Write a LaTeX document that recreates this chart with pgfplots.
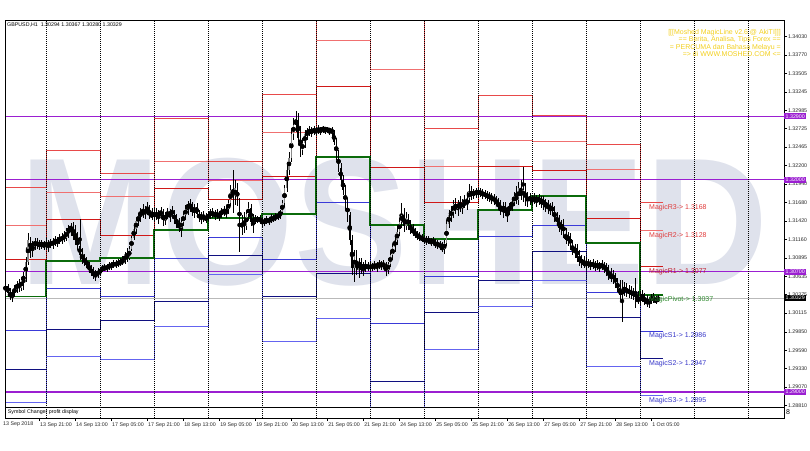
\documentclass[border=0pt]{standalone}
\usepackage{fontspec}
\setmainfont{Liberation Sans}
\usepackage{pgfplots}
\usepackage{pgfplotstable}
\pgfplotsset{compat=1.18}
\definecolor{rthree}{HTML}{E84A4A}
\definecolor{rtwo}{HTML}{F07070}
\definecolor{rone}{HTML}{D01818}
\definecolor{piv}{HTML}{0B6B0B}
\definecolor{sone}{HTML}{3A3AD8}
\definecolor{stwo}{HTML}{101080}
\definecolor{sthree}{HTML}{6464F0}
\definecolor{rlab}{HTML}{E03A3A}
\definecolor{r1lab}{HTML}{C0182A}
\definecolor{plab}{HTML}{2E8B2E}
\definecolor{slab}{HTML}{3535C8}
\definecolor{purp}{HTML}{9B1FD1}
\definecolor{yel}{HTML}{F2CF1D}
\definecolor{wm}{HTML}{DFE2EC}
\definecolor{bull}{HTML}{8A8A8A}

\pgfplotstableread{
x r3 r2 r1 p s1 s2 s3
0 1.31895 1.31352 1.30881 1.30348 1.29867 1.29325 1.28854
24 1.32413 1.31819 1.31443 1.30853 1.30467 1.29887 1.29499
48 1.32093 1.31772 1.31221 1.30891 1.30348 1.30018 1.29466
72 1.32871 1.32257 1.31881 1.31291 1.30891 1.30287 1.29923
96 1.32257 1.31999 1.31726 1.31457 1.31188 1.30928 1.30669
120 1.33211 1.32673 1.32055 1.31513 1.30881 1.30348 1.29711
144 1.34969 1.33969 1.33328 1.32328 1.31683 1.30679 1.30042
168 1.34361 1.33565 1.32173 1.31362 1.29971 1.29155 1.27783
192 1.32730 1.32197 1.31683 1.31160 1.30641 1.30121 1.29608
216 1.33191 1.32564 1.32197 1.31574 1.31206 1.30584 1.30216
240 1.32918 1.32550 1.32140 1.31772 1.31362 1.30994 1.30584
264 1.32504 1.32154 1.31457 1.31103 1.30410 1.30056 1.29363
288 1.3168 1.3128 1.3077 1.3037 1.2986 1.2947 1.2895
298 1.3168 1.3128 1.3077 1.3037 1.2986 1.2947 1.2895
}\levels

\pgfplotstableread{
x o h l c
6 1.30443 1.30542 1.30386 1.30499
7 1.30499 1.30528 1.30358 1.30400
8 1.30400 1.30471 1.30301 1.30344
9 1.30344 1.30443 1.30273 1.30414
10 1.30414 1.30513 1.30344 1.30457
11 1.30457 1.30570 1.30400 1.30528
12 1.30528 1.30598 1.30414 1.30471
13 1.30471 1.30627 1.30428 1.30584
14 1.30584 1.30697 1.30443 1.30641
15 1.30641 1.30909 1.30556 1.30839
16 1.30839 1.31249 1.30796 1.31150
17 1.31150 1.31192 1.30895 1.31008
18 1.31008 1.31136 1.30909 1.31079
19 1.31079 1.31178 1.31008 1.31122
20 1.31122 1.31178 1.31023 1.31065
21 1.31065 1.31150 1.31008 1.31108
22 1.31108 1.31150 1.31023 1.31079
23 1.31079 1.31136 1.31008 1.31093
24 1.31093 1.31178 1.31008 1.31065
25 1.31065 1.31150 1.30980 1.31108
26 1.31108 1.31164 1.31037 1.31079
27 1.31079 1.31178 1.31023 1.31136
28 1.31136 1.31207 1.31065 1.31108
29 1.31108 1.31192 1.31051 1.31164
30 1.31164 1.31235 1.31093 1.31136
31 1.31136 1.31249 1.31093 1.31207
32 1.31207 1.31277 1.31122 1.31178
33 1.31178 1.31320 1.31136 1.31277
34 1.31277 1.31362 1.31178 1.31306
35 1.31306 1.31390 1.31207 1.31334
36 1.31334 1.31405 1.31150 1.31207
37 1.31207 1.31362 1.31079 1.31150
38 1.31150 1.31263 1.31008 1.31065
39 1.31065 1.31447 1.30867 1.30938
40 1.30938 1.31037 1.30810 1.30881
41 1.30881 1.30952 1.30782 1.30839
42 1.30839 1.30909 1.30754 1.30810
43 1.30810 1.30839 1.30683 1.30726
44 1.30726 1.30796 1.30641 1.30697
45 1.30697 1.30768 1.30598 1.30641
46 1.30641 1.30726 1.30570 1.30683
47 1.30683 1.30754 1.30612 1.30683
48 1.30683 1.30768 1.30655 1.30726
49 1.30726 1.30796 1.30697 1.30754
50 1.30754 1.30810 1.30711 1.30740
51 1.30740 1.30810 1.30697 1.30782
52 1.30782 1.30839 1.30726 1.30768
53 1.30768 1.30839 1.30726 1.30810
54 1.30810 1.30867 1.30754 1.30796
55 1.30796 1.30867 1.30754 1.30825
56 1.30825 1.30881 1.30768 1.30810
57 1.30810 1.30895 1.30782 1.30853
58 1.30853 1.30924 1.30796 1.30839
59 1.30839 1.30980 1.30810 1.30952
60 1.30952 1.31037 1.30839 1.30895
61 1.30895 1.31065 1.30867 1.31023
62 1.31023 1.31207 1.30994 1.31178
63 1.31178 1.31348 1.31150 1.31306
64 1.31306 1.31461 1.31235 1.31419
65 1.31419 1.31532 1.31348 1.31489
66 1.31489 1.31603 1.31405 1.31560
67 1.31560 1.31659 1.31461 1.31518
68 1.31518 1.31631 1.31447 1.31589
69 1.31589 1.31688 1.31504 1.31546
70 1.31546 1.31645 1.31447 1.31504
71 1.31504 1.31603 1.31433 1.31489
72 1.31489 1.31617 1.31405 1.31532
73 1.31532 1.31603 1.31433 1.31475
74 1.31475 1.31574 1.31376 1.31546
75 1.31546 1.31617 1.31461 1.31504
76 1.31504 1.31589 1.31348 1.31433
77 1.31433 1.31546 1.31362 1.31518
78 1.31518 1.31603 1.31447 1.31489
79 1.31489 1.31589 1.31405 1.31560
80 1.31560 1.31631 1.31461 1.31518
81 1.31518 1.31574 1.31376 1.31433
82 1.31433 1.31518 1.31320 1.31376
83 1.31376 1.31461 1.31263 1.31320
84 1.31320 1.31433 1.31192 1.31405
85 1.31405 1.31546 1.31348 1.31504
86 1.31504 1.31645 1.31433 1.31589
87 1.31589 1.31702 1.31504 1.31659
88 1.31659 1.31730 1.31546 1.31603
89 1.31603 1.31688 1.31489 1.31546
90 1.31546 1.31659 1.31461 1.31617
91 1.31617 1.31673 1.31475 1.31518
92 1.31518 1.31574 1.31405 1.31461
93 1.31461 1.31546 1.31376 1.31504
94 1.31504 1.31560 1.31405 1.31447
95 1.31447 1.31532 1.31390 1.31461
96 1.31461 1.31560 1.31405 1.31504
97 1.31504 1.31589 1.31447 1.31546
98 1.31546 1.31603 1.31461 1.31489
99 1.31489 1.31574 1.31433 1.31532
100 1.31532 1.31589 1.31447 1.31475
101 1.31475 1.31560 1.31419 1.31518
102 1.31518 1.31603 1.31461 1.31560
103 1.31560 1.31631 1.31489 1.31532
104 1.31532 1.31617 1.31461 1.31589
105 1.31589 1.31716 1.31518 1.31673
106 1.31673 1.31928 1.31631 1.31857
107 1.31857 1.32140 1.31532 1.31772
108 1.31772 1.31999 1.31645 1.31886
109 1.31886 1.31956 1.31631 1.31716
110 1.31716 1.31744 1.30980 1.31320
111 1.31320 1.31504 1.31221 1.31405
112 1.31405 1.31546 1.31249 1.31348
113 1.31348 1.31574 1.31291 1.31518
114 1.31518 1.31688 1.31433 1.31603
115 1.31603 1.31659 1.31348 1.31405
116 1.31405 1.31518 1.31249 1.31447
117 1.31447 1.31504 1.31376 1.31419
118 1.31419 1.31489 1.31390 1.31461
119 1.31461 1.31504 1.31376 1.31419
120 1.31419 1.31475 1.31334 1.31390
121 1.31390 1.31461 1.31348 1.31433
122 1.31433 1.31489 1.31376 1.31405
123 1.31405 1.31475 1.31362 1.31447
124 1.31447 1.31518 1.31390 1.31433
125 1.31433 1.31504 1.31405 1.31475
126 1.31475 1.31532 1.31419 1.31461
127 1.31461 1.31546 1.31433 1.31504
128 1.31504 1.31574 1.31447 1.31546
129 1.31546 1.31716 1.31518 1.31673
130 1.31673 1.31928 1.31617 1.31886
131 1.31886 1.32211 1.31829 1.32140
132 1.32140 1.32395 1.32069 1.32310
133 1.32310 1.32734 1.32253 1.32649
134 1.32649 1.32876 1.32565 1.32777
135 1.32777 1.32975 1.32678 1.32847
136 1.32847 1.32946 1.32536 1.32593
137 1.32593 1.32763 1.32324 1.32423
138 1.32423 1.32593 1.32352 1.32522
139 1.32522 1.32706 1.32451 1.32649
140 1.32649 1.32734 1.32565 1.32692
141 1.32692 1.32763 1.32621 1.32664
142 1.32664 1.32748 1.32607 1.32720
143 1.32720 1.32763 1.32635 1.32678
144 1.32678 1.32748 1.32621 1.32720
145 1.32720 1.32777 1.32649 1.32692
146 1.32692 1.32748 1.32635 1.32734
147 1.32734 1.32763 1.32664 1.32706
148 1.32706 1.32748 1.32649 1.32734
149 1.32734 1.32748 1.32664 1.32692
150 1.32692 1.32734 1.32635 1.32720
151 1.32720 1.32748 1.32621 1.32664
152 1.32664 1.32706 1.32494 1.32536
153 1.32536 1.32593 1.32282 1.32352
154 1.32352 1.32423 1.32112 1.32168
155 1.32168 1.32239 1.31928 1.31999
156 1.31999 1.32069 1.31787 1.31857
157 1.31857 1.31928 1.31574 1.31645
158 1.31645 1.31744 1.31405 1.31504
159 1.31504 1.31546 1.31079 1.31150
160 1.31150 1.31221 1.30655 1.30754
161 1.30754 1.31008 1.30556 1.30924
162 1.30924 1.31008 1.30655 1.30726
163 1.30726 1.30895 1.30612 1.30839
164 1.30839 1.30895 1.30669 1.30726
165 1.30726 1.30839 1.30641 1.30796
166 1.30796 1.30867 1.30697 1.30754
167 1.30754 1.30839 1.30711 1.30782
168 1.30782 1.30839 1.30697 1.30754
169 1.30754 1.30825 1.30711 1.30796
170 1.30796 1.30853 1.30726 1.30768
171 1.30768 1.30839 1.30697 1.30810
172 1.30810 1.30867 1.30740 1.30782
173 1.30782 1.30853 1.30726 1.30825
174 1.30825 1.30867 1.30740 1.30768
175 1.30768 1.30839 1.30641 1.30726
176 1.30726 1.30839 1.30669 1.30810
177 1.30810 1.30980 1.30768 1.30938
178 1.30938 1.31093 1.30867 1.31051
179 1.31051 1.31221 1.30980 1.31150
180 1.31150 1.31320 1.31079 1.31263
181 1.31263 1.31461 1.31207 1.31405
182 1.31405 1.31673 1.31320 1.31504
183 1.31504 1.31603 1.31263 1.31348
184 1.31348 1.31546 1.31291 1.31461
185 1.31461 1.31518 1.31291 1.31348
186 1.31348 1.31433 1.31235 1.31291
187 1.31291 1.31376 1.31207 1.31263
188 1.31263 1.31320 1.31178 1.31221
189 1.31221 1.31277 1.31150 1.31207
190 1.31207 1.31263 1.31136 1.31178
191 1.31178 1.31235 1.31122 1.31164
192 1.31164 1.31221 1.31093 1.31136
193 1.31136 1.31207 1.31079 1.31164
194 1.31164 1.31207 1.31093 1.31122
195 1.31122 1.31178 1.31065 1.31150
196 1.31150 1.31192 1.31079 1.31108
197 1.31108 1.31164 1.31037 1.31079
198 1.31079 1.31150 1.31023 1.31108
199 1.31108 1.31136 1.31008 1.31051
200 1.31051 1.31122 1.30980 1.31023
201 1.31023 1.31150 1.30952 1.31108
202 1.31108 1.31433 1.31065 1.31376
203 1.31376 1.31574 1.31320 1.31504
204 1.31504 1.31631 1.31405 1.31546
205 1.31546 1.31716 1.31461 1.31659
206 1.31659 1.31744 1.31518 1.31589
207 1.31589 1.31716 1.31489 1.31673
208 1.31673 1.31772 1.31546 1.31603
209 1.31603 1.31730 1.31518 1.31688
210 1.31688 1.31787 1.31603 1.31645
211 1.31645 1.31772 1.31574 1.31744
212 1.31744 1.31942 1.31673 1.31829
213 1.31829 1.31914 1.31716 1.31787
214 1.31787 1.31871 1.31730 1.31829
215 1.31829 1.31886 1.31744 1.31815
216 1.31815 1.31886 1.31744 1.31843
217 1.31843 1.31886 1.31758 1.31801
218 1.31801 1.31871 1.31730 1.31815
219 1.31815 1.31857 1.31730 1.31772
220 1.31772 1.31843 1.31702 1.31787
221 1.31787 1.31829 1.31688 1.31744
222 1.31744 1.31815 1.31659 1.31758
223 1.31758 1.31801 1.31645 1.31702
224 1.31702 1.31772 1.31631 1.31673
225 1.31673 1.31744 1.31574 1.31617
226 1.31617 1.31716 1.31504 1.31560
227 1.31560 1.31688 1.31461 1.31631
228 1.31631 1.31688 1.31489 1.31532
229 1.31532 1.31617 1.31405 1.31574
230 1.31574 1.31673 1.31504 1.31631
231 1.31631 1.31730 1.31560 1.31688
232 1.31688 1.31829 1.31631 1.31772
233 1.31772 1.31914 1.31659 1.31716
234 1.31716 1.31970 1.31645 1.31886
235 1.31886 1.31999 1.31716 1.31772
236 1.31772 1.32183 1.31688 1.31857
237 1.31857 1.31956 1.31631 1.31702
238 1.31702 1.31829 1.31617 1.31758
239 1.31758 1.31815 1.31645 1.31716
240 1.31716 1.31787 1.31631 1.31744
241 1.31744 1.31815 1.31659 1.31702
242 1.31702 1.31787 1.31617 1.31758
243 1.31758 1.31801 1.31645 1.31688
244 1.31688 1.31772 1.31603 1.31730
245 1.31730 1.31772 1.31574 1.31645
246 1.31645 1.31730 1.31546 1.31673
247 1.31673 1.31716 1.31518 1.31589
248 1.31589 1.31673 1.31504 1.31631
249 1.31631 1.31688 1.31489 1.31546
250 1.31546 1.31631 1.31405 1.31461
251 1.31461 1.31546 1.31348 1.31419
252 1.31419 1.31504 1.31263 1.31320
253 1.31320 1.31433 1.31221 1.31376
254 1.31376 1.31447 1.31178 1.31235
255 1.31235 1.31320 1.31093 1.31150
256 1.31150 1.31263 1.31065 1.31207
257 1.31207 1.31249 1.31008 1.31065
258 1.31065 1.31150 1.30938 1.30994
259 1.30994 1.31093 1.30895 1.31037
260 1.31037 1.31093 1.30839 1.30895
261 1.30895 1.31008 1.30782 1.30839
262 1.30839 1.30938 1.30754 1.30867
263 1.30867 1.30924 1.30754 1.30782
264 1.30782 1.30895 1.30726 1.30839
265 1.30839 1.30881 1.30754 1.30796
266 1.30796 1.30867 1.30726 1.30825
267 1.30825 1.30881 1.30740 1.30782
268 1.30782 1.30853 1.30711 1.30810
269 1.30810 1.30867 1.30726 1.30768
270 1.30768 1.30839 1.30697 1.30810
271 1.30810 1.30867 1.30726 1.30754
272 1.30754 1.30839 1.30683 1.30782
273 1.30782 1.30825 1.30641 1.30697
274 1.30697 1.30796 1.30584 1.30655
275 1.30655 1.30754 1.30556 1.30612
276 1.30612 1.30726 1.30528 1.30641
277 1.30641 1.30683 1.30471 1.30528
278 1.30528 1.30612 1.30414 1.30471
279 1.30471 1.30584 1.30301 1.30372
280 1.30372 1.30584 1.29990 1.30443
281 1.30443 1.30556 1.30358 1.30471
282 1.30471 1.30542 1.30344 1.30400
283 1.30400 1.30513 1.30329 1.30443
284 1.30443 1.30499 1.30315 1.30372
285 1.30372 1.30471 1.30301 1.30414
286 1.30414 1.30612 1.30188 1.30329
287 1.30329 1.30428 1.30245 1.30273
288 1.30273 1.30414 1.30216 1.30358
289 1.30358 1.30443 1.30273 1.30315
290 1.30315 1.30400 1.30230 1.30287
291 1.30287 1.30372 1.30202 1.30259
292 1.30259 1.30344 1.30188 1.30301
293 1.30301 1.30386 1.30245 1.30344
294 1.30344 1.30400 1.30259 1.30287
295 1.30287 1.30358 1.30245 1.30294
296 1.30294 1.30367 1.30280 1.30329
}\candles

\newcommand{\tk}{\fontsize{5.3}{6}\selectfont}
\newcommand{\lb}{\fontsize{7}{8}\selectfont}

\begin{document}
\begin{tikzpicture}
\begin{axis}[
  at={(0,0)}, anchor=south west, scale only axis,
  width=779pt, height=397.3pt,
  xmin=5.78, xmax=352, ymin=1.28631, ymax=1.34252,
  axis line style={black, line width=0.8pt},
  axis on top,
  clip mode=individual,
  xtick={21,37,...,293},
  xticklabels={13 Sep 21:00,14 Sep 13:00,17 Sep 05:00,17 Sep 21:00,18 Sep 13:00,19 Sep 05:00,19 Sep 21:00,20 Sep 13:00,21 Sep 05:00,21 Sep 21:00,24 Sep 13:00,25 Sep 05:00,25 Sep 21:00,26 Sep 13:00,27 Sep 05:00,27 Sep 21:00,28 Sep 13:00,1 Oct 05:00},
  xtick pos=bottom,
  xticklabel style={font=\tk, text=black!85, anchor=north west, inner sep=0pt, xshift=0.8pt, yshift=-1.5pt},
  extra x ticks={24,48,...,336}, extra x tick labels={},
  extra x tick style={major tick length=0pt, xmajorgrids=true},
  major grid style={black, line width=0.7pt, dash pattern=on 1pt off 1pt},
  ytick={1.28810,1.29070,1.29330,1.29590,1.29850,1.30115,1.30375,1.30635,1.30895,1.31160,1.31420,1.31680,1.31940,1.32200,1.32465,1.32725,1.32985,1.33245,1.33505,1.33770,1.34030},
  yticklabels={1.28810,1.29070,1.29330,1.29590,1.29850,1.30115,1.30375,1.30635,1.30895,1.31160,1.31420,1.31680,1.31940,1.32200,1.32465,1.32725,1.32985,1.33245,1.33505,1.33770,1.34030},
  ytick pos=right, yticklabel pos=right,
  tick align=outside, major tick length=3pt,
  tick style={black, line width=0.5pt},
  yticklabel style={font=\tk, text=black!85, anchor=west, inner sep=0pt, xshift=0.8pt},
]
\coordinate (O) at (rel axis cs:0,0);
% watermark
\node[text=wm, font=\fontsize{181}{181}\selectfont\bfseries, xscale=0.942, inner sep=0pt] at (rel axis cs:0.4994,0.4933) {MOSHED};
% current price line
\addplot[gray!55, line width=0.6pt, forget plot] coordinates {(5.78,1.30329) (352,1.30329)};
% horizontal user lines
\addplot[purp, line width=1.4pt, forget plot] coordinates {(5.78,1.32900) (352,1.32900)};
\addplot[purp, line width=1.0pt, forget plot] coordinates {(5.78,1.32000) (352,1.32000)};
\addplot[purp, line width=1.0pt, forget plot] coordinates {(5.78,1.30700) (352,1.30700)};
\addplot[purp, line width=1.4pt, forget plot] coordinates {(5.78,1.29000) (352,1.29000)};
% pivot levels
\addplot[const plot mark left, rthree, line width=0.85pt, forget plot] table[x=x,y=r3] {\levels};
\addplot[const plot mark left, rtwo, line width=0.85pt, forget plot] table[x=x,y=r2] {\levels};
\addplot[const plot mark left, rone, line width=0.85pt, forget plot] table[x=x,y=r1] {\levels};
\addplot[const plot mark left, sone, line width=0.85pt, forget plot] table[x=x,y=s1] {\levels};
\addplot[const plot mark left, stwo, line width=0.85pt, forget plot] table[x=x,y=s2] {\levels};
\addplot[const plot mark left, sthree, line width=0.85pt, forget plot] table[x=x,y=s3] {\levels};
\addplot[const plot mark left, piv, line width=1.7pt, forget plot] table[x=x,y=p] {\levels};
% candles: wicks
\addplot[only marks, mark=none, forget plot,
  error bars/.cd, y dir=both, y explicit, error mark=none,
  error bar style={line width=0.45pt, black}]
  table[x=x, y expr={(\thisrow{h}+\thisrow{l})/2}, y error expr={(\thisrow{h}-\thisrow{l})/2}] {\candles};
% bull bodies
\addplot[only marks, mark=none, forget plot,
  error bars/.cd, y dir=both, y explicit, error mark=none,
  error bar style={line width=1.05pt, bull}]
  table[x=x, y expr={(\thisrow{o}+\thisrow{c})/2}, y error expr={(\thisrow{c}>\thisrow{o}) ? ((\thisrow{c}-\thisrow{o})/2) : 0}] {\candles};
% bear bodies
\addplot[only marks, mark=none, forget plot,
  error bars/.cd, y dir=both, y explicit, error mark=none,
  error bar style={line width=1.05pt, black}]
  table[x=x, y expr={(\thisrow{o}+\thisrow{c})/2}, y error expr={(\thisrow{o}>\thisrow{c}) ? ((\thisrow{o}-\thisrow{c})/2) : 0}] {\candles};

% level labels
\node[anchor=north west, text=rlab, font=\lb, inner sep=0pt] at (axis cs:292,1.3166) {MagicR3-> 1.3168};
\node[anchor=north west, text=rlab, font=\lb, inner sep=0pt] at (axis cs:292,1.3126) {MagicR2-> 1.3128};
\node[anchor=north west, text=r1lab, font=\lb, inner sep=0pt] at (axis cs:292,1.3075) {MagicR1-> 1.3077};
\node[anchor=north west, text=plab, font=\lb, inner sep=0pt] at (axis cs:292,1.3035) {MagicPivot-> 1.3037};
\node[anchor=north west, text=slab, font=\lb, inner sep=0pt] at (axis cs:292,1.2984) {MagicS1-> 1.2986};
\node[anchor=north west, text=slab, font=\lb, inner sep=0pt] at (axis cs:292,1.2945) {MagicS2-> 1.2947};
\node[anchor=north west, text=slab, font=\lb, inner sep=0pt] at (axis cs:292,1.2893) {MagicS3-> 1.2895};

% sub-window strip (Symbol Changer)
\draw[black, line width=0.8pt, fill=white] (axis cs:5.78,1.28631) rectangle (axis cs:352,1.28787);
\node[anchor=west, font=\tk, inner sep=0pt] at (axis cs:7,1.28709) {Symbol Changer profit display};

\coordinate (b1) at (axis cs:352,1.32900);
\coordinate (b2) at (axis cs:352,1.32000);
\coordinate (b3) at (axis cs:352,1.30700);
\coordinate (b4) at (axis cs:352,1.29000);
\coordinate (b5) at (axis cs:352,1.30329);
\end{axis}

% right price boxes
\node[anchor=west, fill=purp, text=white, font=\tk, inner sep=0.9pt, minimum width=22pt] at (b1) {1.32900};
\node[anchor=west, fill=purp, text=white, font=\tk, inner sep=0.9pt, minimum width=22pt] at (b2) {1.32000};
\node[anchor=west, fill=purp, text=white, font=\tk, inner sep=0.9pt, minimum width=22pt] at (b3) {1.30700};
\node[anchor=west, fill=purp, text=white, font=\tk, inner sep=0.9pt, minimum width=22pt] at (b4) {1.29000};
\node[anchor=west, fill=black, text=white, font=\tk, inner sep=0.9pt, minimum width=22pt] at (b5) {1.30329};

\node[anchor=north west, font=\tk, text=black!85, inner sep=0pt] at ([shift={(-2pt,-4pt)}]O) {13 Sep 2018};
\node[anchor=west, font=\lb, inner sep=0pt] at ([shift={(781pt,6pt)}]O) {8};
\node[anchor=west, font=\tk, inner sep=0pt] at ([shift={(2pt,393pt)}]O) {GBPUSD,H1\ \ 1.30294 1.30367 1.30280 1.30329};
\node[anchor=north east, align=right, text=yel, font=\fontsize{7}{7.4}\selectfont, inner sep=0pt] at ([shift={(776pt,389pt)}]O) {[[[Moshed MagicLine v2.6 @ AkiTI]]]\\== Berita, Analisa, Tips Forex ==\\= PERCUMA dan Bahasa Melayu =\\=> di WWW.MOSHED.COM <=};

\pgfresetboundingbox
\path[use as bounding box] ([shift={(-5pt,-32pt)}]O) rectangle ++(810pt,450pt);
\end{tikzpicture}
\end{document}
